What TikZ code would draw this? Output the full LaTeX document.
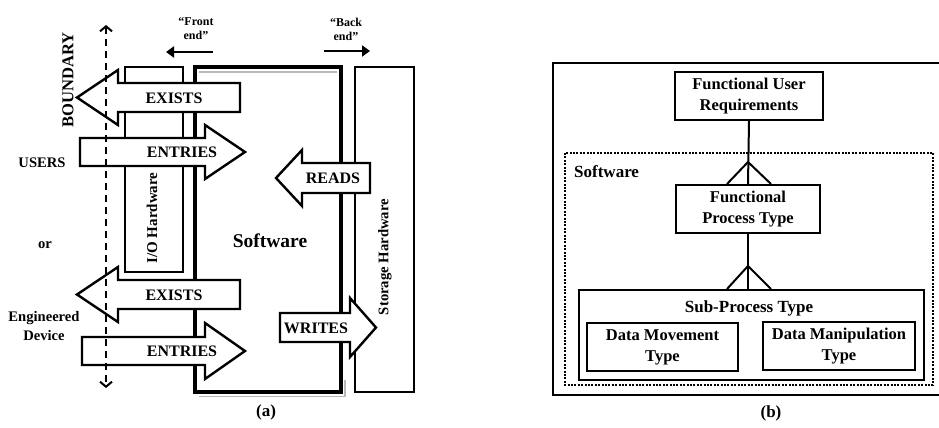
\documentclass[tikz,border=0pt]{standalone}
\usepackage{fontspec}
\setmainfont{Liberation Serif}
\usetikzlibrary{arrows.meta,calc}
\begin{document}
\begin{tikzpicture}[x=1pt,y=-1pt,
  lbl/.style={font=\bfseries\fontsize{16}{18}\selectfont, inner sep=0pt},
  sidelbl/.style={font=\bfseries\fontsize{14.6}{19}\selectfont, inner sep=0pt, align=center},
  vlbl/.style={font=\bfseries\fontsize{15}{18}\selectfont, inner sep=0pt, rotate=90},
  endlbl/.style={font=\bfseries\fontsize{12}{14}\selectfont, inner sep=0pt, align=center},
  blockarrow/.style={draw=black, fill=white, line width=2.4pt, line join=miter},
  box/.style={draw, line width=2pt},
  rbox/.style={draw, line width=2pt, fill=white, align=center, inner sep=0pt,
    font=\bfseries\fontsize{16.5}{21}\selectfont},
  smallarrow/.style={line width=2.6pt, -{Triangle[length=8pt,width=11pt]}},
]
\useasboundingbox (0,0) rectangle (939,428);

% ---------------- panel (a) ----------------
\draw[box] (125,67) rectangle (183,272);
\draw[gray!55, line width=1.4pt] (199,72) -- (337,72);
\draw[gray!55, line width=1.6pt] (199,396.5) -- (345,396.5) -- (345,380);
\draw[line width=3.5pt] (195,67) rectangle (341,392);
\draw[box] (355,67) rectangle (414,392);

% block arrows
\draw[blockarrow] (240,83) -- (118,83) -- (118,70) -- (77,97.5) -- (118,125) -- (118,112) -- (240,112) -- cycle;
\draw[blockarrow] (80,138) -- (205,138) -- (205,125) -- (245,152) -- (205,179) -- (205,166) -- (80,166) -- cycle;
\draw[blockarrow] (370,163) -- (302,163) -- (302,150) -- (276,178) -- (302,206) -- (302,193) -- (370,193) -- cycle;
\draw[blockarrow] (240,280) -- (118,280) -- (118,267) -- (77,294.5) -- (118,322) -- (118,309) -- (240,309) -- cycle;
\draw[blockarrow] (280,313) -- (350,313) -- (350,298) -- (376,327.5) -- (350,357) -- (350,342) -- (280,342) -- cycle;
\draw[blockarrow] (82,337) -- (205,337) -- (205,323) -- (245,351) -- (205,379) -- (205,365) -- (82,365) -- cycle;

\node[lbl] (exists1) at (174,98) {EXISTS};
\node[lbl] (entries1) at (182,152) {ENTRIES};
\node[lbl] (reads) at (333,178) {READS};
\node[lbl] (exists2) at (174,295) {EXISTS};
\node[lbl] (writes) at (316,328) {WRITES};
\node[lbl] (entries2) at (182,351) {ENTRIES};

% boundary
\coordinate (btop) at (106,25);
\coordinate (bbot) at (106,388);
\draw[line width=2pt, dash pattern=on 7pt off 5pt,
  {Straight Barb[length=5pt,width=12pt]}-{Straight Barb[length=5pt,width=12pt]}] (btop) -- (bbot);

% front / back end
\node[endlbl] (front) at (196,29) {“Front\\end”};
\node[endlbl] (back) at (346,29) {“Back\\end”};
\coordinate (fa) at (213,52);
\coordinate (fb) at (166,52);
\coordinate (ba) at (324,51);
\coordinate (bb) at (370,51);
\draw[smallarrow] (fa) -- (fb);
\draw[smallarrow] (ba) -- (bb);

\node[font=\bfseries\fontsize{16.6}{18}\selectfont, inner sep=0pt, rotate=90] (boundary) at (68,80) {BOUNDARY};
\node[sidelbl] (users) at (42,163) {USERS};
\node[sidelbl] (or) at (45,245) {or};
\node[sidelbl] (eng) at (44,326) {Engineered\\Device};
\node[vlbl] (iohw) at (152,218) {I/O Hardware};
\node[vlbl, font=\bfseries\fontsize{14.7}{18}\selectfont] (sthw) at (385,257) {Storage Hardware};
\node[font=\bfseries\fontsize{19.5}{22}\selectfont, inner sep=0pt] (sw) at (270,241) {Software};
\node[font=\bfseries\fontsize{17}{20}\selectfont, inner sep=0pt] (capa) at (266,412) {(a)};

% ---------------- panel (b) ----------------
\begin{scope}
\clip (0,0) rectangle (939,428);
\draw[line width=2pt] (553,63) rectangle (960,395);
\end{scope}
\draw[line width=2.2pt, dash pattern=on 2pt off 1.4pt] (565,153) rectangle (933,385);
\node[font=\bfseries\fontsize{17}{20}\selectfont, inner sep=0pt, anchor=west] (swb) at (574,172) {Software};

\node[rbox, minimum width=148, minimum height=48] (fur) at (749,96) {Functional User\\Requirements};
\node[rbox, minimum width=144, minimum height=48] (fpt) at (748,209) {Functional\\Process Type};
\node[draw, line width=2pt, minimum width=345, minimum height=90, inner sep=0pt] (sub) at (751.5,335) {};
\node[font=\bfseries\fontsize{17}{20}\selectfont, inner sep=0pt] (subl) at (749,308) {Sub-Process Type};
\node[rbox, minimum width=151, minimum height=48] (dmv) at (662.5,347) {Data Movement\\Type};
\node[rbox, minimum width=152, minimum height=48] (dmp) at (839,346) {Data Manipulation\\Type};

\draw[line width=2pt] (fur.south) -- (fpt.north);
\draw[line width=2pt] ($(fpt.north)+(-21,0)$) -- ($(fpt.north)+(0,-22)$) -- ($(fpt.north)+(23,0)$);
\coordinate (subtop) at (fpt.south |- sub.north);
\draw[line width=2pt] (fpt.south) -- (subtop);
\draw[line width=2pt] ($(subtop)+(-21,0)$) -- ($(subtop)+(0,-23)$) -- ($(subtop)+(23,0)$);

\node[font=\bfseries\fontsize{17}{20}\selectfont, inner sep=0pt] (capb) at (771,413) {(b)};
\end{tikzpicture}
\end{document}
